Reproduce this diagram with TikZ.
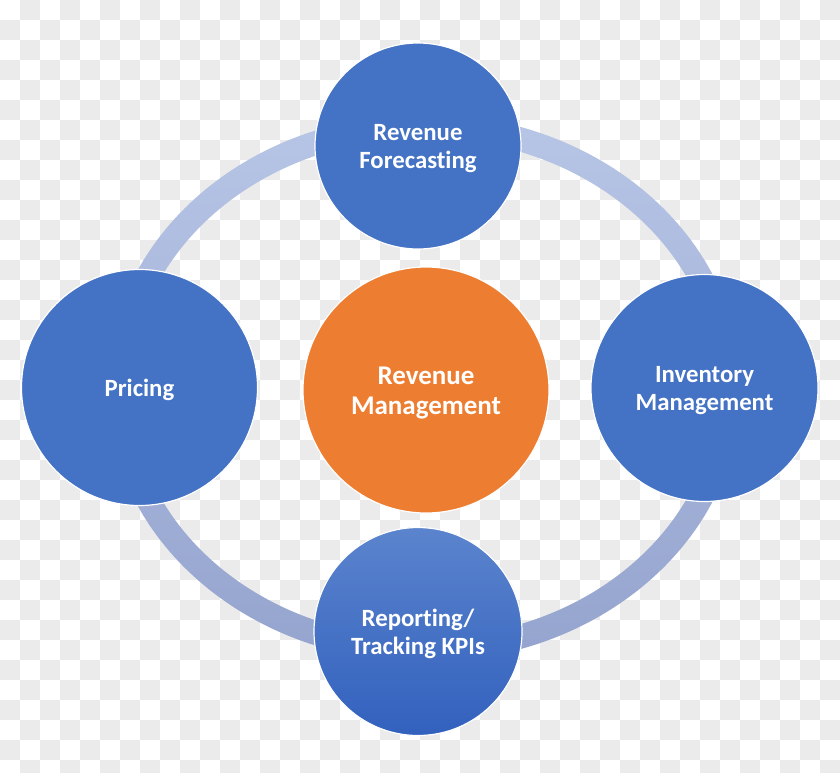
\documentclass[tikz,border=0pt]{standalone}
\usepackage{fontspec}
\setmainfont{Carlito}[Ligatures=NoCommon]
\definecolor{accblue}{HTML}{4472C4}
\definecolor{accorange}{HTML}{ED7D31}
\definecolor{ringtop}{HTML}{B7C5E6}
\definecolor{ringbot}{HTML}{95A4CE}
\definecolor{botlight}{HTML}{5B84CD}
\definecolor{botdark}{HTML}{3261BE}
\definecolor{checkgray}{HTML}{EBEBEB}
\newcommand\lowerstrut{\rule{0pt}{22pt}}
\newcommand\hubstrut{\rule{0pt}{23pt}}
\begin{document}
\begin{tikzpicture}[x=1pt,y=-1pt,
  bubble/.style={circle, draw=white, line width=1.2pt, fill=accblue, text=white,
    font=\bfseries\fontsize{24.8}{28}\selectfont, align=center, inner sep=0pt},
  shadedbubble/.style={bubble, top color=botlight, bottom color=botdark},
  hub/.style={bubble, fill=accorange, font=\bfseries\fontsize{27}{30}\selectfont},
  checker/.style={fill=checkgray, draw=none}]
\useasboundingbox (0,0) rectangle (840,772);
\fill[white] (0,0) rectangle (840,772);
\begin{scope}
\clip (0,0) rectangle (840,772);
\foreach \i in {0,2,...,40}{\foreach \j in {1,3,...,37}{\fill[checker] (\i*20,\j*20) rectangle ++(20,20);}}
\foreach \i in {1,3,...,41}{\foreach \j in {0,2,...,38}{\fill[checker] (\i*20,\j*20) rectangle ++(20,20);}}
\end{scope}
% ring
\shade[even odd rule, top color=ringtop, bottom color=ringbot]
  (424,388) ellipse [x radius=317pt, y radius=274pt]
  (424,388) ellipse [x radius=293pt, y radius=250pt];
% nodes
\node[bubble, minimum size=206pt] (fc) at (418,146) {\lowerstrut Revenue\\Forecasting};
\node[bubble, minimum size=236pt] (pr) at (139.5,387.5) {\lowerstrut Pricing};
\node[bubble, minimum size=227pt] (inv) at (704.5,388) {\lowerstrut Inventory\\Management};
\node[shadedbubble, minimum size=208pt] (rep) at (418,631.5) {\lowerstrut Reporting/\\Tracking KPIs};
\node[hub, minimum size=246pt] (rm) at (426,390) {\hubstrut Revenue\\Management};
\end{tikzpicture}
\end{document}
